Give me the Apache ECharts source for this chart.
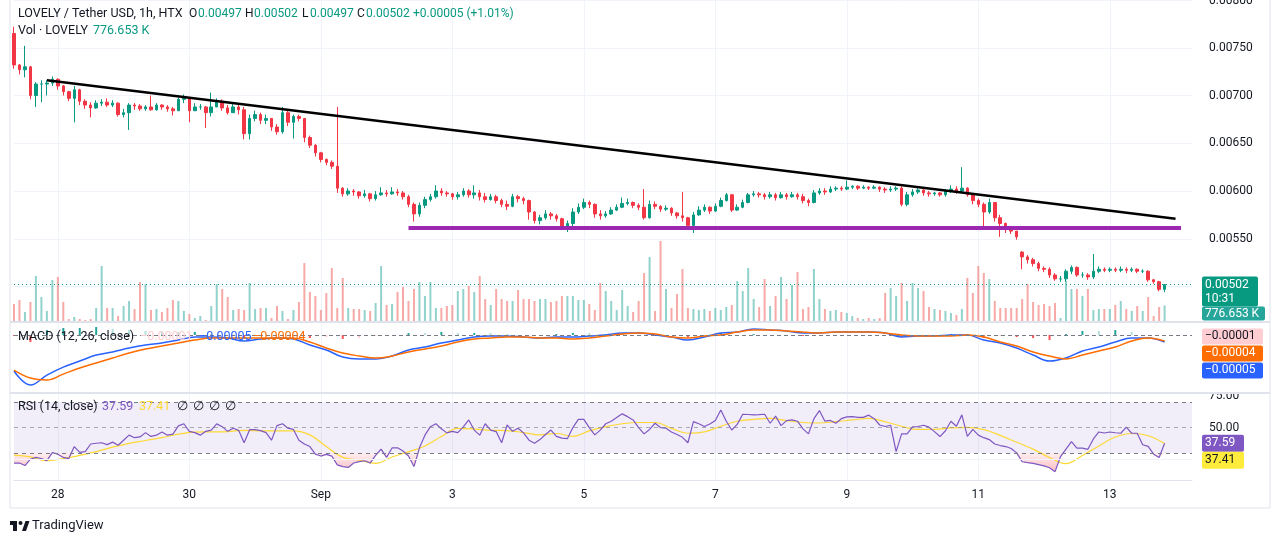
<!DOCTYPE html>
<html>
<head>
<meta charset="utf-8">
<script src="https://cdn.jsdelivr.net/npm/echarts@6/dist/echarts.min.js"></script>
<style>
  html, body { margin: 0; padding: 0; background: #fff; }
  #chart { width: 1281px; height: 544px; }
</style>
</head>
<body>
<div id="chart"></div>
<script>
// 2-hour slots, hour 0 = Aug 28 00:00
const startHour = -16;
const slotCount = 216;
const dayLabels = ['28', '30', 'Sep', '3', '5', '7', '9', '11', '13'];

// [open, close, low, high] in 1e-5 USDT
const candles = [
  [765,732,728,772],[732,727,722,733],[727,730,719,752],[730,700,696,731],[700,712,688,714],
  [712,712,693,716],[712,713,700,716],[713,717,710,720],[717,710,706,718],[710,704,700,711],
  [704,697,694,705],[697,706,672,710],[706,694,690,707],[694,690,686,696],[690,687,677,693],
  [687,692,686,695],[692,693,689,696],[693,690,688,697],[690,692,688,695],[692,680,678,693],
  [680,682,677,686],[682,690,664,692],[690,689,685,692],[689,686,684,691],[686,688,684,690],
  [688,685,684,700],[685,690,684,692],[690,688,685,691],[688,686,683,690],[686,684,679,688],
  [684,696,684,698],[696,698,692,701],[698,684,672,698],[684,688,684,692],[688,688,685,691],
  [688,682,666,689],[682,688,678,703],[688,694,688,697],[694,687,684,696],[687,682,680,690],
  [682,688,682,691],[688,685,680,692],[685,660,654,688],[660,676,654,680],[676,680,673,684],
  [680,674,670,682],[674,676,670,680],[676,667,663,676],[667,662,659,670],[662,682,660,688],
  [682,672,668,684],[672,678,655,680],[678,676,673,680],[676,656,651,676],[656,648,645,658],
  [648,640,636,649],[640,633,630,641],[633,630,627,634],[630,626,623,632],[626,603,598,688],
  [603,597,594,604],[597,600,595,603],[600,599,595,602],[599,595,592,600],[595,597,593,601],
  [597,592,589,598],[592,596,590,600],[596,598,595,604],[598,597,594,601],[597,599,596,604],
  [599,598,595,602],[598,594,591,600],[594,586,583,596],[586,576,568,588],[576,585,573,588],
  [585,591,582,594],[591,594,589,597],[594,600,592,606],[600,598,595,603],[598,597,594,600],
  [597,594,591,598],[594,596,591,599],[596,600,594,603],[600,596,593,602],[596,598,592,606],
  [598,594,590,601],[594,591,588,598],[591,594,590,597],[594,590,587,596],[590,586,583,592],
  [586,584,580,590],[584,594,583,597],[594,592,588,596],[592,590,586,594],[590,578,570,591],
  [578,569,566,579],[569,572,565,575],[572,576,570,580],[576,574,570,578],[574,571,568,576],
  [571,563,560,572],[563,566,557,569],[566,578,563,582],[578,583,576,587],[583,588,581,592],
  [588,586,582,590],[586,576,572,587],[576,574,570,580],[574,576,572,579],[576,580,575,583],
  [580,583,579,586],[583,587,582,593],[587,588,585,592],[588,585,582,589],[585,583,580,587],
  [583,572,570,602],[572,586,571,590],[586,584,581,589],[584,581,578,585],[581,582,579,585],
  [582,577,574,583],[577,574,571,578],[574,572,568,599],[572,564,560,573],[564,575,556,578],
  [575,580,574,584],[580,583,578,586],[583,579,576,584],[579,584,578,587],[584,590,583,593],
  [590,596,589,598],[596,580,578,597],[580,583,579,586],[583,588,582,591],[588,596,587,598],
  [596,597,594,600],[597,596,593,599],[596,594,591,598],[594,596,592,599],[596,593,590,598],
  [593,596,592,599],[596,594,591,598],[594,596,593,599],[596,594,591,598],[594,590,587,597],
  [590,588,584,592],[588,598,587,601],[598,600,596,603],[600,599,596,603],[599,602,598,605],
  [602,603,600,605],[603,602,600,605],[602,604,601,611],[604,605,602,606],[605,603,601,606],
  [603,604,602,606],[604,603,601,605],[603,604,602,606],[604,602,599,605],[602,601,598,604],
  [601,602,599,605],[602,603,600,605],[603,586,584,605],[586,596,584,599],[596,599,594,602],
  [599,601,597,603],[601,598,595,602],[598,597,594,600],[597,598,595,599],[598,596,594,599],
  [596,600,594,602],[600,602,598,606],[602,600,597,605],[600,603,598,625],[603,596,594,604],
  [596,590,586,597],[590,586,583,592],[586,578,563,588],[578,588,576,592],[588,572,568,588],
  [572,566,552,575],[566,561,556,567],[561,558,555,562],[558,552,549,558],[536,531,518,537],
  [531,528,524,533],[528,524,521,530],[524,519,516,526],[519,518,515,521],[518,512,509,520],
  [512,508,506,514],[508,508,505,511],[508,516,505,518],[516,520,513,522],[520,512,510,521],
  [512,512,509,515],[512,510,507,514],[510,516,508,534],[516,518,514,521],[518,517,515,520],
  [517,518,515,520],[518,517,515,520],[517,518,515,521],[518,517,514,520],[517,518,515,520],
  [518,516,514,519],[516,516,514,518],[516,507,505,517],[507,505,503,508],[505,497,495,506],
  [497,502,494,502]
];

// volume per slot, thousands of LOVELY
const volumes = [
  850,1050,450,950,2250,1200,500,2050,2200,950, 100,200,100,50,100,650,2750,650,650,250,
  750,1000,600,1950,1850,550,600,450,650,1050, 1000,500,350,150,250,50,750,1850,1600,1200,
  550,600,550,1900,600,650,650,150,750,500, 100,550,950,2900,1450,1250,550,1400,2650,650,
  2150,650,600,600,550,500,900,2750,800,850, 1450,1700,1000,1600,1950,1250,1950,650,650,750,
  800,1500,1600,1750,1450,2250,1100,800,1600,1100, 1000,1000,1550,1100,1100,1000,1100,1100,950,1000,
  1250,1250,1250,1050,1050,850,550,1900,1500,1000, 550,1550,750,450,1000,2400,3200,500,4000,1600,
  650,1350,2600,650,600,550,600,500,650,550, 700,800,2000,1500,2650,1100,700,2100,750,1250,
  2200,1100,1800,2450,600,700,2600,1100,600,500, 550,450,400,250,150,100,150,100,150,1400,
  1650,1250,1900,1000,1900,1650,1500,700,600,550, 500,400,300,600,2150,1400,2750,2400,2100,1000,
  650,650,650,650,1100,1850,950,800,850,750, 900,150,2000,1600,1600,1250,1600,550,600,600,
  600,800,1000,600,500,750,500,1200,250,700, 777
];

// MACD(12,26) and signal, sampled every 3rd slot, in 1e-5
const macdStep = 3;
const macdLine = [
  -25.7,-35.7,-28.6,-22.9,-18.6,-14.3,-12.1,-9.3,-7.1,-5.7,
  -3.6,-1.4,-1.4,-2.1,-4.3,-2.9,-2.1,-2.9,-7.1,-10.7,
  -15.7,-17.1,-17.1,-15.0,-10.7,-8.6,-5.7,-3.6,-1.4,-0.7,
  -0.7,-1.4,-2.1,-1.4,-1.4,-0.7,0.0,1.4,1.4,0.0,
  -1.4,-3.6,-1.4,1.4,2.1,4.3,3.6,2.9,1.4,1.4,
  2.1,2.1,2.1,1.4,-1.4,-0.7,-0.7,0.0,0.0,-3.6,
  -5.7,-9.3,-14.3,-18.6,-16.4,-11.4,-8.6,-5.0,-2.1,-2.1,
  -5.0
];
const signalLine = [
  -25.0,-30.7,-32.1,-27.9,-23.6,-20.0,-16.4,-12.9,-10.0,-7.9,
  -5.7,-3.6,-2.1,-2.1,-2.1,-2.1,-2.1,-2.1,-5.0,-9.3,
  -12.9,-15.0,-16.4,-15.0,-12.1,-10.0,-7.9,-5.0,-2.9,-2.1,
  -1.4,-1.4,-2.1,-2.1,-2.9,-2.1,-0.7,0.7,1.4,0.7,
  -1.4,-2.1,-0.7,0.0,2.1,3.6,3.6,2.9,2.1,1.4,
  2.1,2.1,2.1,1.4,0.0,-0.7,-0.7,-0.7,0.0,-1.4,
  -5.0,-7.9,-12.1,-15.0,-17.1,-14.3,-11.4,-8.6,-4.3,-2.1,
  -4.3
];

// RSI(14) per slot and its moving average (every 3rd slot)
const rsi = [
  21.9,22.0,20.0,25.0,26.5,25.6,23.9,30.2,29.0,26.4, 25.5,35.0,30.4,31.0,37.0,37.6,38.0,36.5,38.5,36.0,
  40.0,44.0,42.0,42.6,46.0,43.0,44.0,46.5,44.0,44.8, 51.3,53.0,47.0,46.0,44.0,47.0,48.0,52.9,50.7,47.0,
  49.5,47.8,38.0,48.3,48.4,47.6,46.0,40.0,51.5,53.0, 49.5,48.5,40.0,37.0,35.0,29.0,27.5,28.8,27.5,20.5,
  19.2,18.5,22.0,23.1,23.8,22.0,28.0,33.0,26.5,33.9, 34.0,31.5,27.5,19.2,34.0,44.0,50.7,53.0,49.0,45.8,
  47.0,46.0,50.5,56.0,48.0,44.0,53.0,48.0,46.8,38.0, 52.0,47.0,49.5,45.8,40.0,37.6,40.5,44.5,48.0,43.0,
  41.6,41.2,50.0,56.5,56.5,50.0,44.2,48.0,53.0,55.0, 58.0,60.8,58.6,56.0,50.0,45.0,48.5,53.4,50.0,49.5,
  46.5,44.5,42.3,38.0,54.7,53.0,50.8,52.8,55.5,63.9, 55.0,48.1,52.5,60.5,60.3,60.0,60.2,60.5,53.4,59.0,
  51.5,55.5,56.0,55.0,49.0,45.0,57.0,63.4,55.0,55.6, 53.4,57.0,58.4,58.6,58.0,58.0,59.8,57.0,52.0,50.8,
  51.8,31.0,45.0,45.0,50.5,50.8,51.8,50.3,46.8,42.9, 47.5,55.0,51.0,60.0,43.0,48.5,44.0,42.0,40.5,37.0,
  35.8,35.0,33.5,30.0,23.0,22.3,21.7,20.8,19.8,18.3, 15.2,27.0,33.0,38.9,33.7,33.7,32.8,41.0,46.5,45.7,
  46.5,45.9,45.5,50.3,45.5,45.5,36.4,35.2,29.0,26.3, 37.59
];
const rsiMa = [
  28.2,26.8,23.8,25.5,28.0,31.0,34.5,37.5,39.8,42.0,
  44.8,46.4,46.6,46.8,47.8,47.4,47.3,47.3,44.2,35.0,
  26.5,24.3,21.8,26.8,30.8,35.5,43.0,49.3,48.8,47.8,
  47.6,46.0,44.2,45.3,43.0,47.4,50.7,53.0,54.0,54.0,
  49.3,45.5,46.6,51.0,55.0,56.5,57.2,55.5,54.0,53.6,
  54.6,56.0,57.2,54.6,51.0,48.5,48.6,49.8,50.2,48.4,
  43.8,38.4,33.0,26.4,21.5,28.0,35.5,42.5,45.3,43.5,
  37.41
];

// drawn lines: [slot, price 1e-5]
const trendLine = [[6, 716], [212, 571]];
const supportLine = [[72, 561.5], [213, 561.5]];
const lastPrice = 502;
const priceTop = 800;

const UP = '#089981', DOWN = '#f23645';
const FONT = 'Roboto, "Noto Sans", sans-serif';
const TXT = '#131722';

const slots = [];
for (let i = 0; i < slotCount; i++) slots.push(String(startHour + i * 2));
const isDay = (i) => (startHour + i * 2) >= 0 && (startHour + i * 2) % 48 === 0;

const macdData = macdLine.map((v, k) => [k * macdStep, v]);
const signalData = signalLine.map((v, k) => [k * macdStep, v]);
const histData = macdLine.map((v, k) => {
  const h = +(v - signalLine[k]).toFixed(2);
  const prev = k > 0 ? macdLine[k - 1] - signalLine[k - 1] : h;
  let color;
  if (h >= 0) color = h >= prev ? '#26a69a' : '#b2dfdb';
  else color = h <= prev ? '#ff5252' : '#ffcdd2';
  return { value: [k * macdStep, h], itemStyle: { color } };
});
const rsiMaData = rsiMa.map((v, k) => [k * macdStep, v]);
const rsiBase = rsi.map(v => Math.min(v, 30));
const rsiFill = rsi.map(v => 30 - Math.min(v, 30));

const volData = volumes.map((v, i) => ({
  value: v,
  itemStyle: { color: candles[i][1] >= candles[i][0] ? 'rgba(38,166,154,0.5)' : 'rgba(239,83,80,0.5)' }
}));

const L = 14, R = 89;
function xAx(gridIndex, extra) {
  return Object.assign({
    type: 'category', gridIndex, data: slots, boundaryGap: false,
    axisLine: { show: false }, axisTick: { show: false },
    axisLabel: { show: false }, splitLine: { show: false }
  }, extra || {});
}

const chart = echarts.init(document.getElementById('chart'));

chart.setOption({
  animation: false,
  backgroundColor: '#ffffff',
  textStyle: { fontFamily: FONT },
  grid: [
    { left: L, right: R, top: 0, height: 286.5 },      // price
    { left: L, right: R, top: 230, height: 91 },       // volume
    { left: L, right: R, top: 322, height: 71 },       // macd
    { left: L, right: R, top: 364.2, height: 126.7 },  // rsi (0..100)
    { left: L, right: R, top: 0, height: 480 }         // time axis + vertical grid
  ],
  xAxis: [
    xAx(0), xAx(1), xAx(2), xAx(3),
    xAx(4, {
      axisLine: { show: true, lineStyle: { color: '#e0e3eb' } },
      axisLabel: {
        show: true, interval: (i) => isDay(i), color: TXT, fontSize: 12, margin: 9,
        fontFamily: FONT,
        formatter: (v, i) => dayLabels[(startHour + i * 2) / 48] || ''
      },
      splitLine: { show: true, interval: (i) => isDay(i), lineStyle: { color: '#f0f3fa', width: 1 } }
    })
  ],
  yAxis: [
    {
      type: 'value', gridIndex: 0, position: 'right', min: 500, max: priceTop, interval: 50,
      axisLine: { show: false }, axisTick: { show: false },
      splitLine: { lineStyle: { color: '#f0f3fa' } },
      axisLabel: { color: TXT, fontSize: 12, margin: 17, showMaxLabel: false, fontFamily: FONT,
        formatter: (v) => (v / 100000).toFixed(5) }
    },
    { type: 'value', gridIndex: 1, min: 0, max: 4550, show: false },
    { type: 'value', gridIndex: 2, min: -41.4, max: 9.3, show: false },
    {
      type: 'value', gridIndex: 3, position: 'right', min: 0, max: 100, interval: 25,
      axisLine: { show: false }, axisTick: { show: false }, splitLine: { show: false },
      axisLabel: { color: TXT, fontSize: 12, margin: 17, fontFamily: FONT,
        formatter: (v) => (v === 75 || v === 50) ? v.toFixed(2) : '' }
    },
    { type: 'value', gridIndex: 4, show: false }
  ],
  series: [
    {
      name: 'Volume', type: 'bar', xAxisIndex: 1, yAxisIndex: 1,
      data: volData, barWidth: 2, z: 1
    },
    {
      name: 'Price', type: 'candlestick', xAxisIndex: 0, yAxisIndex: 0,
      data: candles, barWidth: 3, clip: false, z: 3,
      itemStyle: { color: UP, color0: DOWN, borderColor: UP, borderColor0: DOWN, borderWidth: 1 },
      markLine: {
        symbol: 'none', silent: true, animation: false,
        label: { show: false },
        data: [
          { yAxis: lastPrice, lineStyle: { color: UP, type: [1, 3], width: 1 } },
          [ { coord: trendLine[0] }, { coord: trendLine[1], lineStyle: { color: '#000000', width: 2.5, type: 'solid' } } ],
          [ { coord: supportLine[0] }, { coord: supportLine[1], lineStyle: { color: '#9c27b0', width: 4, type: 'solid' } } ]
        ]
      }
    },
    {
      name: 'Histogram', type: 'bar', xAxisIndex: 2, yAxisIndex: 2,
      data: histData, barWidth: 2,
      markLine: {
        symbol: 'none', silent: true, label: { show: false },
        data: [{ yAxis: 0, lineStyle: { color: '#787b86', type: [4, 3], width: 1 } }]
      }
    },
    {
      name: 'MACD', type: 'line', xAxisIndex: 2, yAxisIndex: 2, data: macdData,
      smooth: 0.4, showSymbol: false, lineStyle: { color: '#2962ff', width: 1.5 }
    },
    {
      name: 'Signal', type: 'line', xAxisIndex: 2, yAxisIndex: 2, data: signalData,
      smooth: 0.4, showSymbol: false, lineStyle: { color: '#ff6d00', width: 1.5 }
    },
    {
      name: 'RSI base', type: 'line', xAxisIndex: 3, yAxisIndex: 3, data: rsiBase,
      stack: 'os', showSymbol: false, lineStyle: { opacity: 0 }, silent: true,
      markArea: {
        silent: true,
        itemStyle: { color: 'rgba(126,87,194,0.1)' },
        data: [[{ yAxis: 30 }, { yAxis: 70 }]]
      },
      markLine: {
        symbol: 'none', silent: true, label: { show: false },
        data: [
          { yAxis: 70, lineStyle: { color: '#787b86', type: [4, 4], width: 1 } },
          { yAxis: 50, lineStyle: { color: '#787b86', type: [4, 4], width: 1, opacity: 0.6 } },
          { yAxis: 30, lineStyle: { color: '#787b86', type: [4, 4], width: 1 } },
          { yAxis: 25, lineStyle: { color: '#f0f3fa', type: 'solid', width: 1 } }
        ]
      }
    },
    {
      name: 'RSI oversold', type: 'line', xAxisIndex: 3, yAxisIndex: 3, data: rsiFill,
      stack: 'os', showSymbol: false, lineStyle: { opacity: 0 }, silent: true,
      areaStyle: {
        color: new echarts.graphic.LinearGradient(0, 0, 0, 1, [
          { offset: 0, color: 'rgba(242,54,69,0.12)' },
          { offset: 1, color: 'rgba(242,54,69,0.45)' }
        ])
      }
    },
    {
      name: 'RSI MA', type: 'line', xAxisIndex: 3, yAxisIndex: 3, data: rsiMaData,
      smooth: 0.4, showSymbol: false, lineStyle: { color: '#fdd835', width: 1.2 }
    },
    {
      name: 'RSI', type: 'line', xAxisIndex: 3, yAxisIndex: 3, data: rsi,
      showSymbol: false, lineStyle: { color: '#7e57c2', width: 1.2 }
    }
  ]
});

// labels, tags and pane frame
const yPrice = chart.convertToPixel({ yAxisIndex: 0 }, lastPrice);
const yTop = chart.convertToPixel({ yAxisIndex: 0 }, priceTop);
const yHist = chart.convertToPixel({ yAxisIndex: 2 }, -1);
const yRsi = chart.convertToPixel({ yAxisIndex: 3 }, rsi[rsi.length - 1]);

function txt(x, y, s, color, size, extra) {
  return { type: 'text', x, y, z: 100, style: Object.assign({ text: s, fill: color, font: (size || 13) + 'px ' + FONT, textVerticalAlign: 'middle' }, extra || {}) };
}
function tag(y, h, bg, lines, color, w) {
  return [
    { type: 'rect', z: 99, shape: { x: 1202, y, width: w || 56, height: h, r: 2 }, style: { fill: bg } },
    txt(1205, y + h / 2, lines, color, 12, { lineHeight: 14, textVerticalAlign: 'middle' })
  ];
}

const seps = { stroke: '#e0e3eb', lineWidth: 2 };
const HS = 12;
chart.setOption({
  graphic: [
    // top of the 75.00 label sits under the pane border, as in the source
    { type: 'rect', z: 60, shape: { x: 1196, y: 381, width: 72, height: 11.5 }, style: { fill: '#ffffff' } },
    { type: 'line', z: 61, shape: { x1: 10, y1: 322, x2: 1270, y2: 322 }, style: seps },
    { type: 'line', z: 61, shape: { x1: 10, y1: 393, x2: 1270, y2: 393 }, style: seps },
    { type: 'line', z: 61, shape: { x1: 10, y1: 0, x2: 10, y2: 508 }, style: { stroke: '#e0e3eb', lineWidth: 1 } },
    { type: 'line', z: 61, shape: { x1: 1270, y1: 0, x2: 1270, y2: 508 }, style: { stroke: '#e0e3eb', lineWidth: 1 } },
    { type: 'line', z: 61, shape: { x1: 10, y1: 508, x2: 1270, y2: 508 }, style: { stroke: '#e0e3eb', lineWidth: 1 } },

    // top price label, cut by the window edge like the source
    txt(1209, yTop + 1, (priceTop / 100000).toFixed(5), TXT, 12),

    txt(18, 14, 'LOVELY / Tether USD, 1h, HTX', TXT, 12.5),
    txt(189, 14, 'O', TXT, HS), txt(198, 14, '0.00497', UP, HS),
    txt(245, 14, 'H', TXT, HS), txt(254, 14, '0.00502', UP, HS),
    txt(302, 14, 'L', TXT, HS), txt(310, 14, '0.00497', UP, HS),
    txt(357, 14, 'C', TXT, HS), txt(366, 14, '0.00502', UP, HS),
    txt(413, 14, '+0.00005 (+1.01%)', UP, HS),
    txt(18, 31, 'Vol · LOVELY', TXT, 12.5), txt(93, 31, '776.653 K', UP, 12.5),

    txt(18, 337, 'MACD (12, 26, close)', TXT, 12.5),
    txt(140, 337, '\u22120.00001', '#ffcdd2', 12.5),
    txt(199, 337, '\u22120.00005', '#2962ff', 12.5),
    txt(253, 337, '\u22120.00004', '#ff6d00', 12.5),

    txt(18, 407, 'RSI (14, close)', TXT, 12.5),
    txt(102, 407, '37.59', '#7e57c2', 12.5),
    txt(139, 407, '37.41', '#fdd835', 12.5),
    txt(177, 407, '\u2205', TXT, 12.5), txt(193, 407, '\u2205', TXT, 12.5),
    txt(209, 407, '\u2205', TXT, 12.5), txt(225, 407, '\u2205', TXT, 12.5),

    ...tag(yPrice - 8, 30, UP, '0.00502\n10:31', '#ffffff', 56),
    ...tag(yPrice + 22, 14, '#26a69a', '776.653 K', '#ffffff', 63),
    ...tag(yHist - 8, 16, '#ffcdd2', '\u22120.00001', TXT, 61),
    ...tag(yHist + 9, 16, '#ff6d00', '\u22120.00004', '#ffffff', 61),
    ...tag(yHist + 26, 16, '#2962ff', '\u22120.00005', '#ffffff', 61),
    ...tag(yRsi - 8.5, 17, '#7e57c2', '37.59', '#ffffff', 42),
    ...tag(yRsi + 8.5, 17, '#ffeb3b', '37.41', TXT, 42),

    { type: 'rect', shape: { x: 10, y: 521, width: 7, height: 4 }, style: { fill: '#131722' } },
    { type: 'rect', shape: { x: 13, y: 521, width: 4, height: 10 }, style: { fill: '#131722' } },
    { type: 'circle', shape: { cx: 20.5, cy: 523, r: 2 }, style: { fill: '#131722' } },
    { type: 'polygon', shape: { points: [[22, 531], [25.5, 521], [29.5, 521], [26, 531]] }, style: { fill: '#131722' } },
    txt(32, 526, 'TradingView', TXT, 13)
  ]
});

window.addEventListener('resize', () => chart.resize());
</script>
</body>
</html>
